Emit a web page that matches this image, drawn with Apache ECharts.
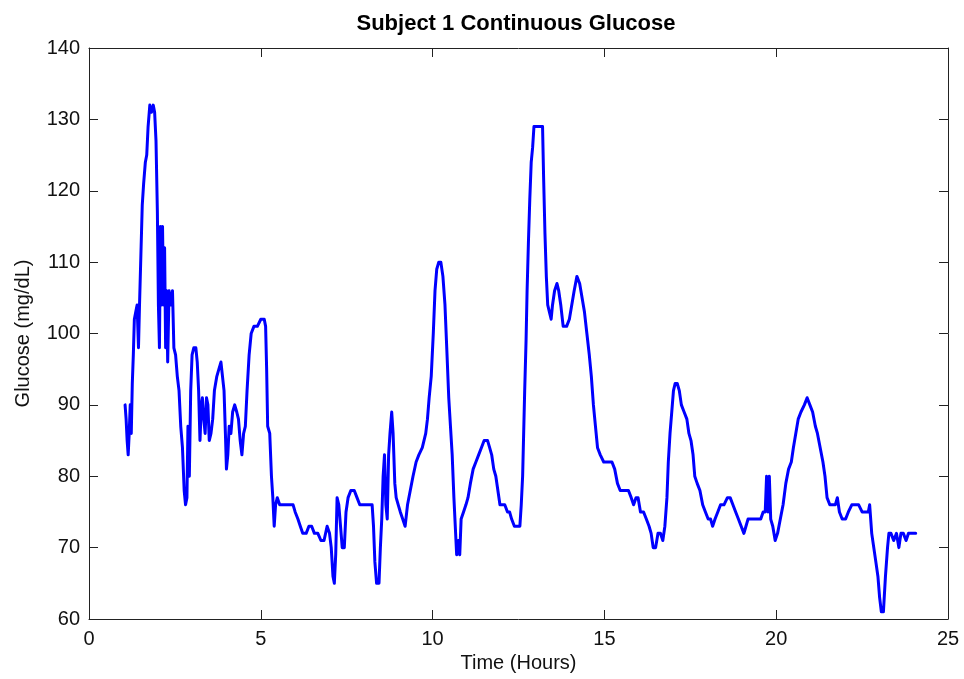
<!DOCTYPE html>
<html>
<head>
<meta charset="utf-8">
<title>Subject 1 Continuous Glucose</title>
<script src="https://cdn.jsdelivr.net/npm/echarts@6/dist/echarts.min.js"></script>
<style>
  html, body { margin: 0; padding: 0; background: #fff; }
  #chart { width: 964px; height: 679px; }
</style>
</head>
<body>
<div id="chart"></div>
<script>
// Sensor readings: time since start (hours) and glucose (mg/dL)
const hours = [
  1.05, 1.08, 1.11, 1.14, 1.17, 1.20, 1.23, 1.26, 1.29, 1.32, 1.36, 1.40, 1.44, 1.47, 1.51, 1.55, 1.59, 1.64, 1.68, 1.72,
  1.77, 1.82, 1.87, 1.91, 1.95, 1.99, 2.02, 2.05, 2.08, 2.11, 2.14, 2.17, 2.20, 2.23, 2.26, 2.29, 2.33, 2.38, 2.43, 2.47,
  2.52, 2.57, 2.62, 2.67, 2.72, 2.77, 2.81, 2.85, 2.88, 2.92, 2.96, 3.00, 3.05, 3.11, 3.15, 3.19, 3.23, 3.27, 3.30, 3.34,
  3.38, 3.42, 3.46, 3.50, 3.55, 3.60, 3.65, 3.72, 3.78, 3.84, 3.89, 3.93, 3.97, 4.00, 4.04, 4.08, 4.13, 4.18, 4.24, 4.30,
  4.35, 4.40, 4.45, 4.50, 4.55, 4.60, 4.66, 4.72, 4.80, 4.90, 5.00, 5.10, 5.14, 5.17, 5.20, 5.26, 5.31, 5.35, 5.39, 5.43,
  5.48, 5.55, 5.70, 5.85, 5.94, 6.00, 6.08, 6.15, 6.22, 6.32, 6.40, 6.48, 6.56, 6.66, 6.75, 6.84, 6.93, 7.00, 7.05, 7.10,
  7.14, 7.18, 7.22, 7.27, 7.32, 7.37, 7.43, 7.48, 7.54, 7.62, 7.72, 7.80, 7.88, 8.00, 8.12, 8.24, 8.28, 8.32, 8.37, 8.44,
  8.48, 8.52, 8.56, 8.60, 8.64, 8.68, 8.72, 8.76, 8.81, 8.85, 8.90, 8.94, 9.00, 9.06, 9.13, 9.20, 9.27, 9.35, 9.43, 9.52,
  9.60, 9.70, 9.80, 9.85, 9.90, 9.96, 10.02, 10.07, 10.12, 10.18, 10.24, 10.30, 10.36, 10.42, 10.47, 10.52, 10.57, 10.62, 10.66, 10.70,
  10.75, 10.79, 10.83, 10.90, 10.97, 11.03, 11.10, 11.18, 11.26, 11.34, 11.42, 11.50, 11.60, 11.66, 11.72, 11.78, 11.84, 11.90, 11.96, 12.03,
  12.10, 12.18, 12.24, 12.30, 12.38, 12.47, 12.54, 12.58, 12.62, 12.65, 12.68, 12.72, 12.75, 12.79, 12.83, 12.87, 12.91, 12.95, 13.05, 13.14,
  13.20, 13.23, 13.27, 13.31, 13.35, 13.40, 13.45, 13.49, 13.55, 13.62, 13.67, 13.73, 13.80, 13.90, 13.98, 14.05, 14.12, 14.20, 14.28, 14.35,
  14.42, 14.49, 14.56, 14.62, 14.68, 14.74, 14.80, 14.88, 14.98, 15.10, 15.22, 15.30, 15.38, 15.46, 15.58, 15.70, 15.78, 15.85, 15.92, 15.98,
  16.05, 16.14, 16.22, 16.30, 16.36, 16.42, 16.49, 16.56, 16.63, 16.70, 16.76, 16.82, 16.86, 16.91, 16.96, 17.01, 17.06, 17.12, 17.18, 17.24,
  17.32, 17.40, 17.46, 17.52, 17.58, 17.63, 17.70, 17.78, 17.86, 17.94, 18.02, 18.09, 18.15, 18.22, 18.30, 18.38, 18.48, 18.58, 18.66, 18.74,
  18.82, 18.90, 18.98, 19.06, 19.12, 19.18, 19.30, 19.42, 19.55, 19.62, 19.68, 19.72, 19.76, 19.80, 19.84, 19.90, 19.97, 20.04, 20.12, 20.20,
  20.28, 20.36, 20.44, 20.50, 20.57, 20.64, 20.72, 20.82, 20.90, 20.98, 21.06, 21.14, 21.20, 21.28, 21.36, 21.42, 21.48, 21.56, 21.64, 21.72,
  21.78, 21.84, 21.92, 22.02, 22.10, 22.20, 22.30, 22.40, 22.50, 22.60, 22.68, 22.72, 22.78, 22.84, 22.90, 22.96, 23.01, 23.06, 23.12, 23.18,
  23.24, 23.28, 23.34, 23.42, 23.50, 23.57, 23.63, 23.70, 23.78, 23.85, 23.92, 24.00, 24.06
];

const glucose = [
  90, 88, 85, 83, 86, 90, 86, 93, 97, 102, 103, 104, 98, 104, 111, 118, 121, 124, 125, 129,
  132, 131, 132, 131, 127, 117, 104, 98, 115, 104, 115, 104, 112, 98, 106, 96, 106, 104, 106, 98,
  97, 94, 92, 87, 84, 78, 76, 77, 87, 80, 92, 97, 98, 98, 96, 92, 85, 90, 91, 88,
  86, 91, 90, 85, 86, 88, 92, 94, 95, 96, 96, 92, 86, 81, 83, 87, 86, 89, 90, 89,
  88, 85, 83, 86, 87, 92, 97, 100, 101, 101, 102, 102, 101, 95, 87, 86, 80, 77, 73, 76,
  77, 76, 76, 76, 76, 75, 74, 73, 72, 72, 73, 73, 72, 72, 71, 71, 73, 72, 70, 66,
  65, 69, 77, 76, 73, 70, 70, 75, 77, 78, 78, 77, 76, 76, 76, 76, 73, 68, 65, 65,
  70, 74, 80, 83, 76, 74, 83, 86, 89, 86, 79, 77, 76, 75, 74, 73, 76, 78, 80, 82,
  83, 84, 86, 88, 91, 94, 100, 106, 109, 110, 110, 108, 104, 97, 91, 87, 83, 77, 73, 69,
  71, 69, 74, 75, 76, 77, 79, 81, 82, 83, 84, 85, 85, 84, 83, 81, 80, 78, 76, 76,
  76, 75, 75, 74, 73, 73, 73, 76, 80, 86, 92, 99, 106, 113, 119, 124, 126, 129, 129, 129,
  129, 122, 114, 108, 104, 103, 102, 104, 106, 107, 106, 104, 101, 101, 102, 104, 106, 108, 107, 105,
  103, 100, 97, 94, 90, 87, 84, 83, 82, 82, 82, 81, 79, 78, 78, 78, 77, 76, 77, 77,
  75, 75, 74, 73, 72, 70, 70, 72, 72, 71, 73, 77, 82, 86, 89, 92, 93, 93, 92, 90,
  89, 88, 86, 85, 83, 80, 79, 78, 76, 75, 74, 74, 73, 74, 75, 76, 76, 77, 77, 76,
  75, 74, 73, 72, 73, 74, 74, 74, 74, 75, 75, 80, 75, 80, 74, 73, 71, 72, 74, 76,
  79, 81, 82, 84, 86, 88, 89, 90, 91, 90, 89, 87, 86, 84, 82, 80, 77, 76, 76, 76,
  77, 75, 74, 74, 75, 76, 76, 76, 75, 75, 75, 76, 72, 70, 68, 66, 63, 61, 61, 66,
  70, 72, 72, 71, 72, 70, 72, 72, 71, 72, 72, 72, 72
];

// Axis ticks
const xTicks = [0, 5, 10, 15, 20, 25];
const yTicks = [60, 70, 80, 90, 100, 110, 120, 130, 140];

const points = hours.map((h, i) => [h, glucose[i]]);

const axisColor = '#222222';
const fontFamily = '"Liberation Sans", Arial, sans-serif';

const xMin = xTicks[0], xMax = xTicks[xTicks.length - 1];
const yMin = yTicks[0], yMax = yTicks[yTicks.length - 1];
const xStep = xTicks[1] - xTicks[0];
const yStep = yTicks[1] - yTicks[0];

const chart = echarts.init(document.getElementById('chart'), null, { renderer: 'canvas' });

chart.setOption({
  animation: false,
  backgroundColor: '#ffffff',
  title: {
    text: 'Subject 1 Continuous Glucose',
    left: 511,
    top: 8,
    textAlign: 'center',
    textStyle: { fontFamily, fontSize: 22, fontWeight: 'bold', color: '#000' }
  },
  grid: { left: 89, right: 16, top: 48, bottom: 60, containLabel: false },
  xAxis: [
    {
      type: 'value', min: xMin, max: xMax, interval: xStep, position: 'bottom',
      name: 'Time (Hours)', nameLocation: 'middle', nameGap: 34,
      nameTextStyle: { fontFamily, fontSize: 20, color: '#111' },
      axisLine: { show: true, onZero: false, lineStyle: { color: axisColor, width: 1 } },
      axisTick: { show: true, inside: true, length: 9, lineStyle: { color: axisColor } },
      axisLabel: { fontFamily, fontSize: 20, color: '#111', margin: 10 },
      splitLine: { show: false }
    },
    {
      type: 'value', min: xMin, max: xMax, interval: xStep, position: 'top',
      axisLine: { show: true, onZero: false, lineStyle: { color: axisColor, width: 1 } },
      axisTick: { show: true, inside: true, length: 9, lineStyle: { color: axisColor } },
      axisLabel: { show: false },
      splitLine: { show: false }
    }
  ],
  yAxis: [
    {
      type: 'value', min: yMin, max: yMax, interval: yStep, position: 'left',
      name: 'Glucose (mg/dL)', nameLocation: 'middle', nameGap: 56, nameRotate: 90,
      nameTextStyle: { fontFamily, fontSize: 20, color: '#111' },
      axisLine: { show: true, onZero: false, lineStyle: { color: axisColor, width: 1 } },
      axisTick: { show: true, inside: true, length: 9, lineStyle: { color: axisColor } },
      axisLabel: { fontFamily, fontSize: 20, color: '#111', margin: 9 },
      splitLine: { show: false }
    },
    {
      type: 'value', min: yMin, max: yMax, interval: yStep, position: 'right',
      axisLine: { show: true, onZero: false, lineStyle: { color: axisColor, width: 1 } },
      axisTick: { show: true, inside: true, length: 9, lineStyle: { color: axisColor } },
      axisLabel: { show: false },
      splitLine: { show: false }
    }
  ],
  series: [
    {
      type: 'line',
      xAxisIndex: 0,
      yAxisIndex: 0,
      data: points,
      showSymbol: false,
      smooth: false,
      lineStyle: { color: '#0000ff', width: 3, join: 'round', cap: 'round' },
      itemStyle: { color: '#0000ff' }
    }
  ]
});
</script>
</body>
</html>
